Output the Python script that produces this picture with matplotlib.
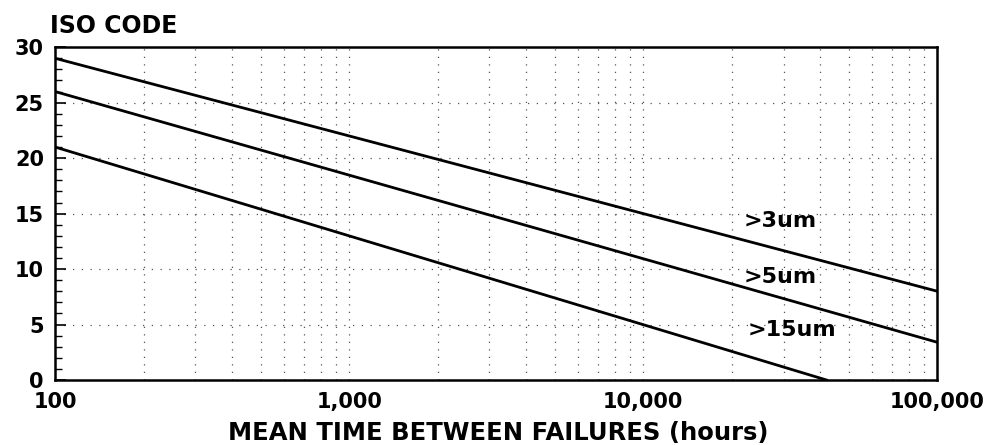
import numpy as np
import matplotlib.pyplot as plt
from matplotlib.ticker import FixedLocator, MultipleLocator, NullFormatter

plt.rcParams['font.family'] = ['DejaVu Sans']

# line end points
hours = [100, 100000]
iso_3um = [29, 8]
iso_5um = [26, 3.4]
hours_15um = [100, 42000]
iso_15um = [21, 0]

labels = ['>3um', '>5um', '>15um']
label_x = [22000, 22000, 22600]
label_y = [14.3, 9.3, 4.5]

xticks = [100, 1000, 10000, 100000]
xticklabels = ['100', '1,000', '10,000', '100,000']
yticks = [0, 5, 10, 15, 20, 25, 30]

fig = plt.figure(figsize=(9.97, 4.45), dpi=100)
ax = fig.add_axes([0.0552, 0.146, 0.885, 0.748])

ax.set_xscale('log')
ax.set_xlim(100, 100000)
ax.set_ylim(0, 30)

# dotted grid: every minor/major decade step, every 5 on y
vgrid = [m * 10 ** e for e in range(2, 5) for m in range(2, 11)][:-1]
for xv in vgrid:
    ax.axvline(xv, color='#555555', lw=0.9, ls=(0, (1, 5)), zorder=1)
for yv in [5, 10, 15, 20, 25]:
    ax.axhline(yv, color='#555555', lw=0.9, ls=(0, (1, 6)), zorder=1)

ax.plot(hours, iso_3um, color='black', lw=2.0, zorder=3)
ax.plot(hours, iso_5um, color='black', lw=2.0, zorder=3)
ax.plot(hours_15um, iso_15um, color='black', lw=2.0, zorder=3)

for t, xv, yv in zip(labels, label_x, label_y):
    ax.text(xv, yv, t, fontsize=16, fontweight='bold', ha='left', va='center')

ax.xaxis.set_major_locator(FixedLocator(xticks))
ax.xaxis.set_minor_locator(FixedLocator([]))
ax.xaxis.set_minor_formatter(NullFormatter())
ax.set_xticks(xticks)
ax.set_xticklabels(xticklabels, fontsize=15, fontweight='bold')
ax.tick_params(axis='x', length=0, pad=8.5)

ax.set_yticks(yticks)
ax.set_yticklabels([str(v) for v in yticks], fontsize=15, fontweight='bold')
ax.yaxis.set_minor_locator(MultipleLocator(1))
ax.tick_params(axis='y', which='major', direction='in', length=8, width=1.2, pad=8)
ax.tick_params(axis='y', which='minor', direction='in', length=5, width=1.0)

for s in ax.spines.values():
    s.set_linewidth(1.8)

fig.text(0.05, 0.942, 'ISO CODE', fontsize=17, fontweight='bold', va='center', ha='left')
fig.text(0.5, 0.026, 'MEAN TIME BETWEEN FAILURES (hours)', fontsize=17.5,
         fontweight='bold', ha='center', va='center')

fig.savefig('out.png', dpi=100)
